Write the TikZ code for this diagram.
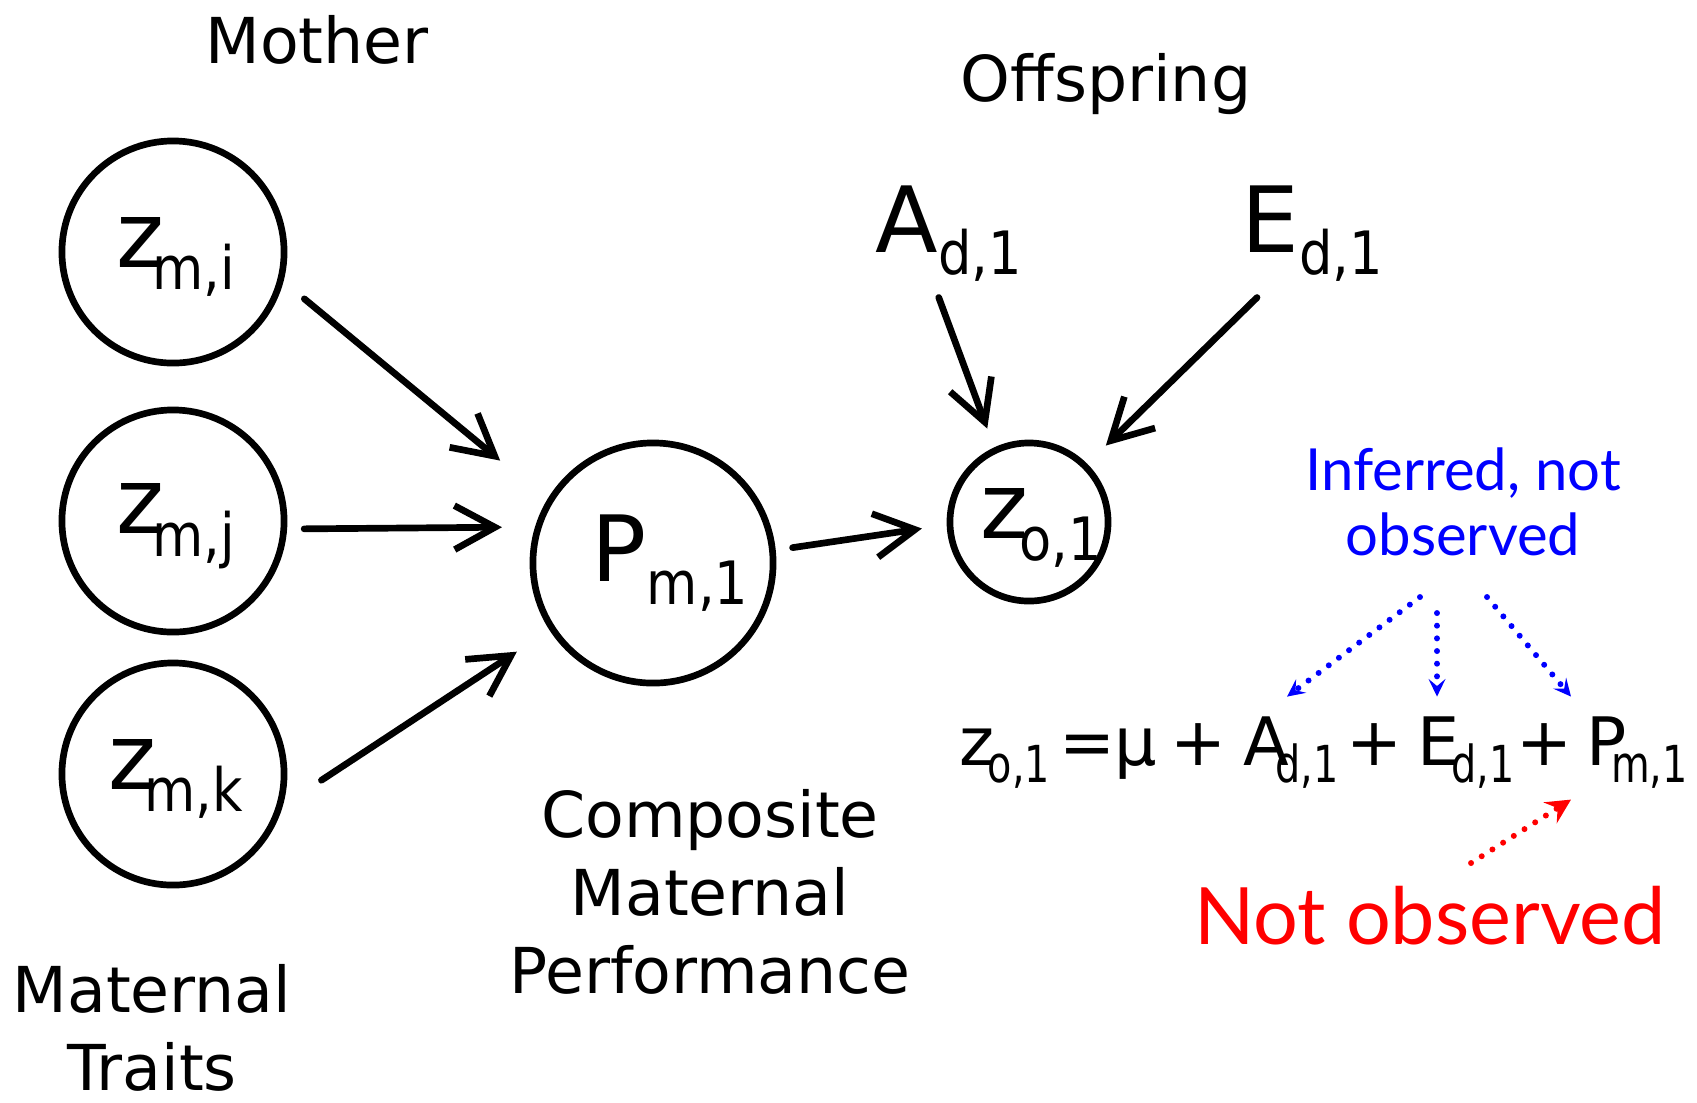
\documentclass[tikz,border=0pt]{standalone}
\usepackage{fontspec}
\usepackage{graphicx}
\setmainfont{DejaVu Sans}
\newfontfamily\notefont{Lato}
\usetikzlibrary{arrows.meta}

% letter with a lowered, narrowed index
\newcommand{\bigsub}[3][0pt]{{\fontsize{26}{30}\selectfont #2}\kern#1\raisebox{-6.5pt}{\scalebox{0.88}[1]{\fontsize{17}{20}\selectfont #3}}}
\newcommand{\eqsub}[3][0pt]{{\fontsize{19}{22}\selectfont #2}\kern#1\raisebox{-5.1pt}{\scalebox{0.78}[1]{\fontsize{14.5}{17}\selectfont #3}}}

\begin{document}
\begin{tikzpicture}[x=0.01cm,y=-0.01cm,
  trait/.style={circle,draw,line width=1.9pt,minimum size=2.22cm,inner sep=0pt},
  caption/.style={font=\fontsize{18}{22.2}\selectfont,align=center,inner sep=0pt},
  arr/.style={line width=1.9pt,line cap=round,-{Straight Barb[length=11.5pt,width=12.5pt]}},
  hint/.style={blue,line width=1.7pt,line cap=round,dash pattern=on 0pt off 3.6pt,
    -{Stealth[length=5pt,width=4.8pt,inset=2pt]}},
  note/.style={font=\notefont\fontsize{16.5}{18.5}\selectfont,align=center,inner sep=0pt,text=blue},
  eqtext/.style={font=\fontsize{19}{22}\selectfont,inner sep=0pt,anchor=base west}]
\useasboundingbox (0,0) rectangle (1697,1102);

% mother
\node[caption,anchor=base] (mother) at (317,63) {Mother};
\node[trait,label={[xshift=0.03cm,yshift=-0.05cm]center:\bigsub[-3.5pt]{z}{m,i}}] (zmi) at (173,252) {};
\node[trait,label={[xshift=0.03cm,yshift=-0.05cm]center:\bigsub[-3.5pt]{z}{m,j}}] (zmj) at (173,521) {};
\node[trait,label={[xshift=0.03cm,yshift=-0.05cm]center:\bigsub[-3.5pt]{z}{m,k}}] (zmk) at (173,774) {};
\node[caption,anchor=south] (traits) at (152,1092) {Maternal\\Traits};
\node[trait,minimum size=2.4cm,label={[xshift=0.17cm]center:\bigsub{P}{m,1}}] (P) at (653,563) {};
\node[caption,anchor=south] (perf) at (710,995) {Composite\\Maternal\\Performance};

% offspring
\node[caption,anchor=base] (offspring) at (1106,101) {Offspring};
\node[anchor=base west,inner sep=0pt] (Ad) at (875,252) {\bigsub{A}{d,1}};
\node[anchor=base west,inner sep=0pt] (Ed) at (1241,252) {\bigsub{E}{d,1}};
\node[trait,minimum size=1.58cm,label={[xshift=0.12cm,yshift=-0.06cm]center:\bigsub[-2.5pt]{z}{o,1}}] (zo) at (1029,522) {};

\draw[arr,shorten <=0.27cm,shorten >=0.61cm] (zmi.-15) -- (P.149);
\draw[arr,shorten <=0.17cm,shorten >=0.33cm] (zmj.-4) -- (P.163);
\draw[arr,shorten <=0.46cm,shorten >=0.39cm] (zmk.-16) -- (P.213);
\draw[arr,shorten <=0.17cm,shorten >=0.25cm] (P.6) -- (zo.182);
\draw[arr,shorten >=0.2cm] ([xshift=-0.1cm,yshift=-0.15cm]Ad.south) -- (zo.115);
\draw[arr,shorten >=0.26cm] ([xshift=0.16cm,yshift=-0.15cm]Ed.south west) -- (zo.45);

% model
\node[eqtext] (eqz) at (959,765) {\eqsub[-2pt]{z}{o,1}};
\node[eqtext,anchor=base] (eqeq) at (1087,765) {=};
\node[eqtext,anchor=base] (eqmu) at (1136,765) {μ};
\node[eqtext,anchor=base] (eqp1) at (1198,765) {+};
\node[eqtext] (eqA) at (1243,765) {\eqsub[-4pt]{A}{d,1}};
\node[eqtext,anchor=base] (eqp2) at (1374,765) {+};
\node[eqtext] (eqE) at (1417,765) {\eqsub[-2.5pt]{E}{d,1}};
\node[eqtext,anchor=base] (eqp3) at (1544,765) {+};
\node[eqtext] (eqP) at (1586,765) {\eqsub[-4.5pt]{P}{m,1}};

\node[note,anchor=south] (inf) at (1463,557) {Inferred, not\\observed};
\draw[hint] ([xshift=-0.43cm,yshift=-0.4cm]inf.south) -- ([xshift=0.44cm,yshift=0.19cm]eqA.north west);
\draw[hint] ([xshift=-0.26cm,yshift=-0.56cm]inf.south) -- ([xshift=0.2cm,yshift=0.19cm]eqE.north west);
\draw[hint] ([xshift=0.24cm,yshift=-0.4cm]inf.south) -- ([xshift=-0.15cm,yshift=0.19cm]eqP.north west);

\node[font=\notefont\fontsize{22.5}{26}\selectfont,text=red,inner sep=0pt,anchor=base] (notobs) at (1430,944) {Not observed};
\draw[hint,red,-{Stealth[length=7pt,width=7pt,inset=2.5pt]}] ([xshift=0.41cm,yshift=0.22cm]notobs.north) -- ([xshift=-0.15cm,yshift=-0.1cm]eqP.south west);
\end{tikzpicture}
\end{document}
